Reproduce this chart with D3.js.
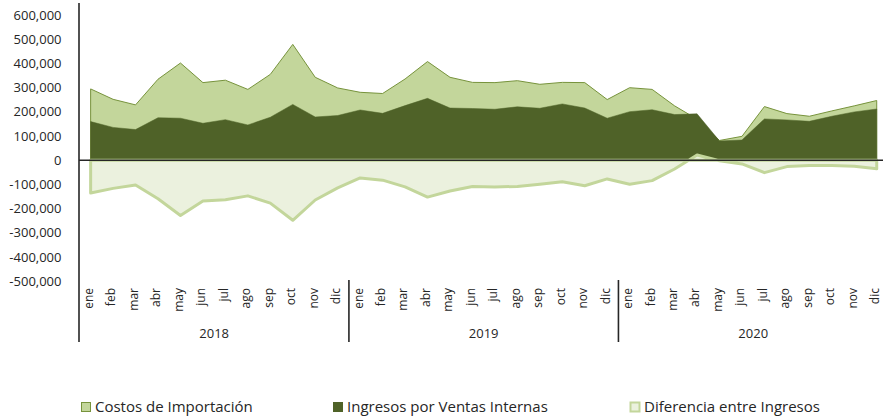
<!DOCTYPE html>
<html>
<head>
<meta charset="utf-8">
<script src="https://cdn.jsdelivr.net/npm/d3@7"></script>
<style>
  body { margin: 0; background: #fff; }
  text { font-family: "Open Sans", sans-serif; fill: #262626; }
</style>
</head>
<body>
<div id="area_1"></div>
<script>
var meses = ["ene","feb","mar","abr","may","jun","jul","ago","sep","oct","nov","dic"]
var anios = ["2018","2019","2020"]

// valores
var costos = [295000,252000,229000,335000,402000,321000,331000,293000,355000,479000,343000,299000,
  281000,276000,336000,408000,343000,322000,321000,329000,314000,322000,321000,251000,
  300000,293000,225000,170000,82000,99000,222000,193000,182000,204000,225000,247000]
var ingresos = [160000,136000,127000,176000,174000,153000,168000,146000,178000,231000,179000,185000,
  208000,194000,226000,256000,216000,214000,211000,221000,215000,233000,216000,174000,
  201000,209000,189000,192000,80000,84000,171000,167000,161000,182000,200000,212000]
var diferencia = [-135000,-116000,-102000,-159000,-228000,-168000,-163000,-147000,-177000,-248000,-164000,-114000,
  -73000,-82000,-110000,-152000,-127000,-108000,-110000,-108000,-99000,-89000,-105000,-77000,
  -99000,-84000,-36000,22000,-2000,-15000,-51000,-26000,-21000,-22000,-25000,-35000]
var ticks_y = [-500000,-400000,-300000,-200000,-100000,0,100000,200000,300000,400000,500000,600000]
var series = ["Costos de Importación","Ingresos por Ventas Internas","Diferencia entre Ingresos"]

var width = 883, height = 418
var left = 79.4, bandW = 22.46

var svg = d3.select("#area_1")
  .append("svg")
    .attr("width", width)
    .attr("height", height)

var idx = d3.range(costos.length)

var x = d3.scaleBand()
  .domain(idx)
  .range([left, left + bandW * idx.length])
  .paddingInner(0).paddingOuter(0)

var y = d3.scaleLinear()
  .domain([-500000, 650000])
  .range([281.3, 3])

function cx(i) { return x(i) + x.bandwidth() / 2 }

var area = function(arr) {
  return d3.area()
    .x(function(i) { return cx(i) })
    .y0(y(0))
    .y1(function(i) { return y(arr[i]) })(idx)
}

// areas (costos abajo, diferencia arriba)
svg.append("path")
  .attr("d", area(costos))
  .style("fill", "#c3d69b")
  .style("stroke", "#77933c")
  .style("stroke-width", 1)

svg.append("path")
  .attr("d", area(ingresos))
  .style("fill", "#4f6228")
  .style("stroke", "#4f6228")
  .style("stroke-width", 0.5)

svg.append("path")
  .attr("d", area(diferencia))
  .style("fill", "#ebf1de")
  .style("stroke", "#c3d69b")
  .style("stroke-width", 3)
  .style("stroke-linejoin", "round")

// eje y
svg.append("g")
  .selectAll("text")
  .data(ticks_y)
  .enter()
  .append("text")
    .attr("x", 61.5)
    .attr("y", function(d) { return y(d) })
    .attr("dy", "0.35em")
    .attr("text-anchor", "end")
    .style("font-size", "13px")
    .text(function(d) { return d3.format(",")(d).replace("−", "-") })

svg.append("line")
  .attr("x1", 79).attr("x2", 79)
  .attr("y1", 3).attr("y2", 342)
  .style("stroke", "#262626")
  .style("stroke-width", 1.6)

// linea del cero
svg.append("line")
  .attr("x1", 79).attr("x2", width)
  .attr("y1", y(0)).attr("y2", y(0))
  .style("stroke", "#262626")
  .style("stroke-width", 1.6)

// etiquetas de meses
svg.append("g")
  .selectAll("text")
  .data(idx)
  .enter()
  .append("text")
    .attr("transform", function(i) { return "translate(" + cx(i) + ",288) rotate(-90)" })
    .attr("dy", "0.2em")
    .attr("text-anchor", "end")
    .style("font-size", "12px")
    .text(function(i) { return meses[i % 12] })

// separadores y anios
anios.forEach(function(a, k) {
  var x0 = x(k * 12), x1 = x(k * 12 + 11) + x.bandwidth()
  if (k > 0) {
    svg.append("line")
      .attr("x1", x0).attr("x2", x0)
      .attr("y1", 280).attr("y2", 342)
      .style("stroke", "#262626")
      .style("stroke-width", 1.6)
  }
  svg.append("text")
    .attr("x", (x0 + x1) / 2)
    .attr("y", 338)
    .attr("text-anchor", "middle")
    .style("font-size", "13px")
    .text(a)
})

// leyenda
var leg = [
  {x: 81, fill: "#c3d69b", stroke: "#77933c", sw: 1},
  {x: 333, fill: "#4f6228", stroke: "#4f6228", sw: 1},
  {x: 630, fill: "#ebf1de", stroke: "#c3d69b", sw: 2}
]
leg.forEach(function(l, k) {
  svg.append("rect")
    .attr("x", l.x + 0.5).attr("y", 402.5)
    .attr("width", 9).attr("height", 9)
    .style("fill", l.fill)
    .style("stroke", l.stroke)
    .style("stroke-width", l.sw)
  svg.append("text")
    .attr("x", l.x + 14)
    .attr("y", 412)
    .style("font-size", "15px")
    .text(series[k])
})
</script>
</body>
</html>
